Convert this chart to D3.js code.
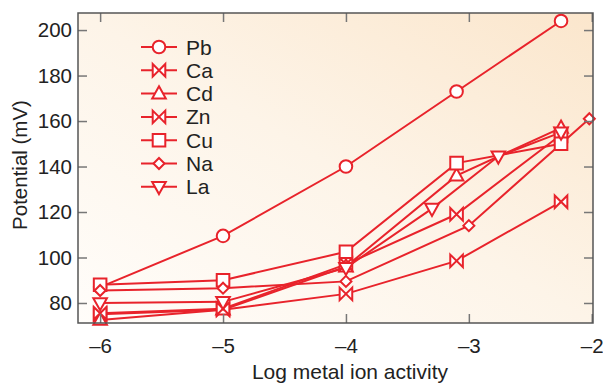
<!DOCTYPE html>
<html><head><meta charset="utf-8">
<script src="https://cdn.jsdelivr.net/npm/d3@7"></script>
<style>body{margin:0;background:#fff}svg{display:block}text{font-family:"Liberation Sans",Arial,sans-serif;fill:#222}</style>
</head><body><svg id="c" width="603" height="384"></svg>
<script>
const seriesNames = ["Pb","Ca","Cd","Zn","Cu","Na","La"];
const pbLog = [-6,-5,-4,-3.1,-2.25], pbMV = [87,109.5,140,173,204];
const caLog = [-6,-5,-4,-3.1,-2.25], caMV = [75,77,84,98.5,124.5];
const cdLog = [-6,-5,-4,-3.1,-2.25], cdMV = [72.5,77,96,136,157];
const znLog = [-6,-5,-4,-3.1,-2.25], znMV = [75.5,77.5,97,119,154];
const cuLog = [-6,-5,-4,-3.1,-2.25], cuMV = [88,90,102.5,141.5,150];
const naLog = [-6,-5,-4,-3.0,-2.02], naMV = [85.5,86.5,89.5,114,161];
const laLog = [-6,-5,-4,-3.3,-2.76,-2.25], laMV = [80,80.5,95.5,121.5,144.5,155];
const xTicks = [-6,-5,-4,-3,-2];
const yTicks = [80,100,120,140,160,180,200];

(function(){
const logs = [pbLog,caLog,cdLog,znLog,cuLog,naLog,laLog];
const mvs = [pbMV,caMV,cdMV,znMV,cuMV,naMV,laMV];
const markers = ["circle","bowtie","triUp","bowtie","square","diamond","triDown"];
const RED = "#e8232b";

const svg = d3.select("#c");
const L=78,R=593,T=13,B=323;
const x = d3.scaleLinear().domain([-6.18,-1.99]).range([L,R]);
const y = d3.scaleLinear().domain([71.2,207.5]).range([B,T]);

const defs = svg.append("defs");
const g = defs.append("linearGradient").attr("id","bg").attr("x1","0").attr("y1","1").attr("x2","1").attr("y2","0");
g.append("stop").attr("offset","0").attr("stop-color","#fffdfa");
g.append("stop").attr("offset","0.5").attr("stop-color","#fdf4e8");
g.append("stop").attr("offset","1").attr("stop-color","#fbe6cc");
defs.append("clipPath").attr("id","cp").append("rect").attr("x",L).attr("y",T).attr("width",R-L).attr("height",B-T);

svg.append("rect").attr("x",L).attr("y",T).attr("width",R-L).attr("height",B-T).attr("fill","url(#bg)");

function markerPath(type){
  const s=6.3;
  switch(type){
    case "bowtie": return `M${-s},${-s}L${s},${s}L${s},${-s}L${-s},${s}Z`;
    case "triUp": return `M0,${-s-1}L${s+0.5},${s-1.5}L${-s-0.5},${s-1.5}Z`;
    case "triDown": return `M0,${s+1}L${s+0.5},${-s+1.5}L${-s-0.5},${-s+1.5}Z`;
    case "square": return `M${-s},${-s}H${s}V${s}H${-s}Z`;
    case "diamond": return `M0,-5.5L5.5,0L0,5.5L-5.5,0Z`;
  }
}
function drawMarker(sel,type){
  if(type==="circle") sel.append("circle").attr("r",6.3).attr("fill","#fff").attr("stroke",RED).attr("stroke-width",2);
  else sel.append("path").attr("d",markerPath(type)).attr("fill","#fff").attr("stroke",RED).attr("stroke-width",2).attr("stroke-linejoin","miter");
}

const plot = svg.append("g").attr("clip-path","url(#cp)");
const line = d3.line().x(d=>x(d[0])).y(d=>y(d[1]));
seriesNames.forEach((n,i)=>{
  const pts = logs[i].map((v,j)=>[v,mvs[i][j]]);
  plot.append("path").attr("d",line(pts)).attr("fill","none").attr("stroke",RED).attr("stroke-width",2);
});
seriesNames.forEach((n,i)=>{
  const pts = logs[i].map((v,j)=>[v,mvs[i][j]]);
  pts.forEach(p=>{
    const m = svg.append("g").attr("transform",`translate(${x(p[0])},${y(p[1])})`);
    drawMarker(m,markers[i]);
  });
});

const tc="#777";
const FS="20.5px";
const ax = svg.append("g");
const axB = ax.append("g").attr("transform",`translate(0,${B})`).call(d3.axisBottom(x).tickValues(xTicks).tickSizeInner(-9).tickSizeOuter(0).tickPadding(15).tickFormat(d=>d3.format("")(d).replace("-","\u2212").replace("\u2212","\u2013")));
const axT = ax.append("g").attr("transform",`translate(0,${T})`).call(d3.axisTop(x).tickValues(xTicks).tickSizeInner(-9).tickSizeOuter(0).tickFormat(""));
const axL = ax.append("g").attr("transform",`translate(${L},0)`).call(d3.axisLeft(y).tickValues(yTicks).tickSizeInner(-9).tickSizeOuter(0).tickPadding(6));
const axR = ax.append("g").attr("transform",`translate(${R},0)`).call(d3.axisRight(y).tickValues(yTicks).tickSizeInner(-9).tickSizeOuter(0).tickFormat(""));
[axB,axT,axL,axR].forEach(a=>{
  a.select(".domain").remove();
  a.selectAll("line").attr("stroke",tc).attr("stroke-width",1.5);
  a.selectAll("text").style("font-size",FS).attr("fill","#222").style("font-family","'Liberation Sans',Arial,sans-serif");
});
svg.append("rect").attr("x",L).attr("y",T).attr("width",R-L).attr("height",B-T).attr("fill","none").attr("stroke","#555").attr("stroke-width",1.5);

svg.append("text").attr("x",350).attr("y",379).attr("text-anchor","middle").style("font-size","21px").text("Log metal ion activity");
svg.append("text").attr("transform",`translate(27,${165}) rotate(-90)`).attr("text-anchor","middle").style("font-size","20.5px").text("Potential (mV)");

const lg = svg.append("g");
seriesNames.forEach((n,i)=>{
  const yy = 47 + i*23.3;
  lg.append("line").attr("x1",141).attr("x2",177).attr("y1",yy).attr("y2",yy).attr("stroke",RED).attr("stroke-width",2);
  const m = lg.append("g").attr("transform",`translate(159,${yy})`);
  drawMarker(m,markers[i]);
  lg.append("text").attr("x",186).attr("y",yy+7.5).style("font-size","21px").text(n);
});
})();
</script></body></html>
